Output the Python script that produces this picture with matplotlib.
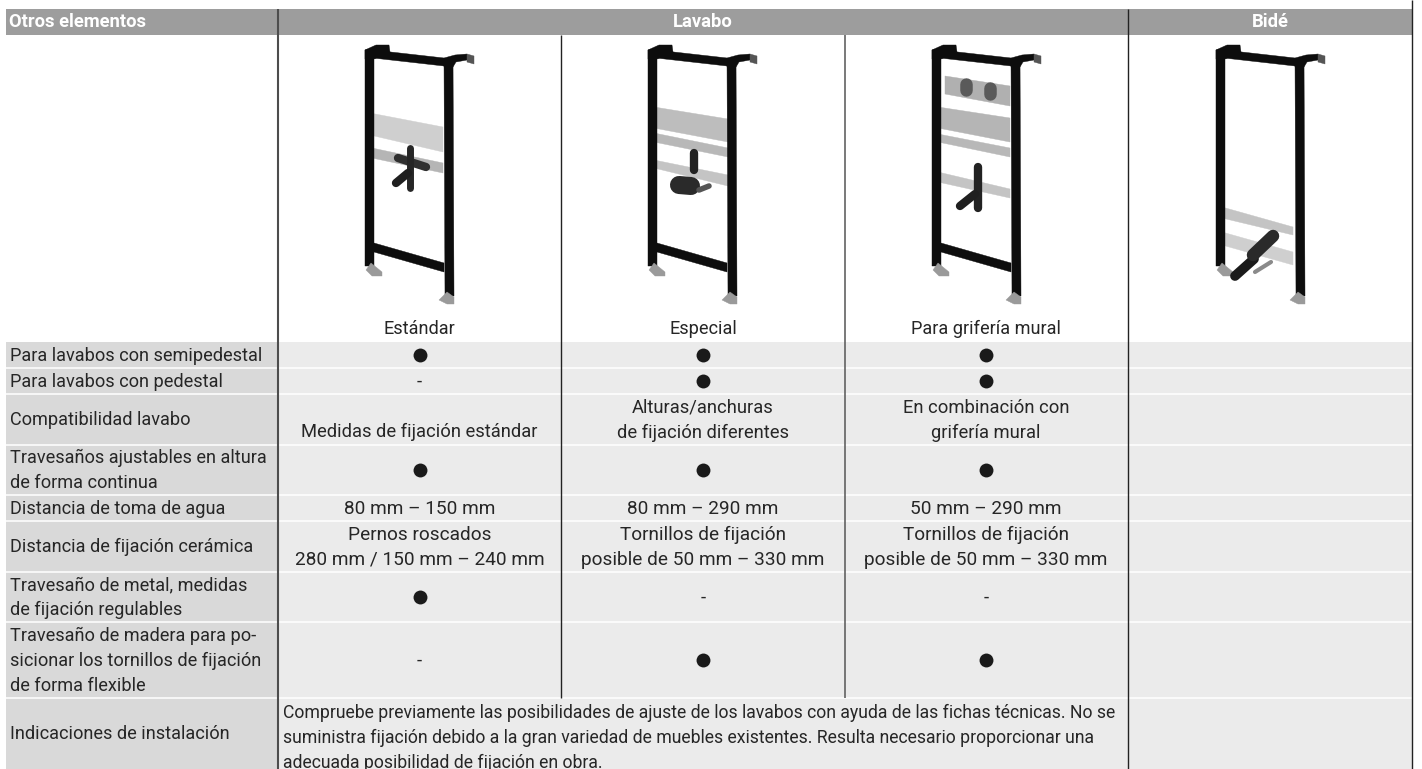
import matplotlib
matplotlib.use("Agg")
import matplotlib.pyplot as plt
from matplotlib.patches import Polygon, Rectangle

plt.rcParams['font.family'] = ['Roboto', 'DejaVu Sans']

header_labels = ["Otros elementos", "Lavabo", "Bidé"]
product_names = ["Estándar", "Especial", "Para grifería mural"]
row_labels = [
    ["Para lavabos con semipedestal"],
    ["Para lavabos con pedestal"],
    ["Compatibilidad lavabo"],
    ["Travesaños ajustables en altura", "de forma continua"],
    ["Distancia de toma de agua"],
    ["Distancia de fijación cerámica"],
    ["Travesaño de metal, medidas", "de fijación regulables"],
    ["Travesaño de madera para po-", "sicionar los tornillos de fijación", "de forma flexible"],
    ["Indicaciones de instalación"],
]
DOT = "●"
col_standard = [DOT, "-", ["Medidas de fijación estándar"], DOT, ["80 mm – 150 mm"],
                ["Pernos roscados", "280 mm / 150 mm – 240 mm"], DOT, "-"]
col_special = [DOT, DOT, ["Alturas/anchuras", "de fijación diferentes"], DOT, ["80 mm – 290 mm"],
               ["Tornillos de fijación", "posible de 50 mm – 330 mm"], "-", DOT]
col_mural = [DOT, DOT, ["En combinación con", "grifería mural"], DOT, ["50 mm – 290 mm"],
             ["Tornillos de fijación", "posible de 50 mm – 330 mm"], "-", DOT]
install_note = [
    "Compruebe previamente las posibilidades de ajuste de los lavabos con ayuda de las fichas técnicas. No se",
    "suministra fijación debido a la gran variedad de muebles existentes. Resulta necesario proporcionar una",
    "adecuada posibilidad de fijación en obra.",
]

W, H = 1422, 769
fig = plt.figure(figsize=(W / 100, H / 100), dpi=100)
ax = fig.add_axes([0, 0, 1, 1])
ax.set_xlim(0, W)
ax.set_ylim(H, 0)
ax.axis("off")

LEFT, VL0, VL1, VL2, VL3, RIGHT = 6, 277.5, 561, 845, 1128, 1412
HEAD_T, HEAD_B = 8.5, 35
row_edges = [342, 368, 394, 445, 495, 521, 572, 622, 698, 769]
col_centers = [419.5, 703, 986]
FS_LABEL, FS_VALUE, FS_NOTE, FS_NUM, FS_HEAD = 13.1, 13.2, 12.66, 13.7, 13.2
TXT = "#262626"
BASE = 5.8  # baseline below the line centre
LINE = 25.2

# backgrounds
ax.add_patch(Rectangle((LEFT, HEAD_T), RIGHT - LEFT, HEAD_B - HEAD_T, fc="#9d9d9d", ec="none"))
ax.add_patch(Rectangle((LEFT, row_edges[0]), VL0 - LEFT, H - row_edges[0], fc="#d9d9d9", ec="none"))
ax.add_patch(Rectangle((VL0, row_edges[0]), RIGHT - VL0, H - row_edges[0], fc="#ebebeb", ec="none"))
for y in row_edges[1:-1]:
    ax.plot([LEFT, RIGHT], [y, y], color="white", lw=1.1, solid_capstyle="butt", zorder=2)

# grid lines
ax.plot([VL0, VL0], [HEAD_T, H], color="#4d4d4d", lw=1.5, zorder=3, solid_capstyle="butt")
ax.plot([VL1, VL1], [HEAD_B, row_edges[8]], color="#222222", lw=1.0, zorder=3, solid_capstyle="butt")
ax.plot([VL2, VL2], [HEAD_B, row_edges[8]], color="#555555", lw=1.1, zorder=3, solid_capstyle="butt")
ax.plot([VL3, VL3], [HEAD_T, H], color="#222222", lw=1.0, zorder=3, solid_capstyle="butt")
ax.plot([RIGHT, RIGHT], [0, H], color="#222222", lw=1.0, zorder=3, solid_capstyle="butt")

# headers
hkw = dict(color="white", fontweight="bold", fontsize=FS_HEAD, va="baseline", zorder=4)
ax.text(9, 27, header_labels[0], ha="left", **hkw)
ax.text(703, 27, header_labels[1], ha="center", **hkw)
ax.text(1270, 27, header_labels[2], ha="center", **hkw)

for cx, name in zip(col_centers, product_names):
    ax.text(cx, 328 + BASE, name, ha="center", va="baseline", fontsize=FS_LABEL, color=TXT)


def text_lines(x, yc, lines, ha, fs):
    n = len(lines)
    for i, s in enumerate(lines):
        ax.text(x, yc + BASE + (i - (n - 1) / 2) * LINE, s, ha=ha, va="baseline",
                fontsize=fs, color=TXT, zorder=4)


# left column
for i, lines in enumerate(row_labels):
    yc = (row_edges[i] + row_edges[i + 1]) / 2
    text_lines(10, yc, lines, "left", FS_LABEL)

# value columns
for cx, col in zip(col_centers, [col_standard, col_special, col_mural]):
    for i, v in enumerate(col):
        yc = (row_edges[i] + row_edges[i + 1]) / 2
        if v == DOT:
            ax.plot([cx], [yc - 0.5], "o", ms=10, color="#1a1a1a", mew=0, zorder=4)
        elif v == "-":
            ax.text(cx, yc + BASE, "-", ha="center", va="baseline", fontsize=FS_VALUE, color=TXT, zorder=4)
        else:
            if i == 2 and len(v) == 1:
                yc += 12
            fs = FS_NUM if any(c.isdigit() for c in "".join(v)) else FS_VALUE
            text_lines(cx, yc, v, "center", fs)

for i, s in enumerate(install_note):
    t = ax.text(283, 712 + BASE + i * LINE, s, ha="left", va="baseline", fontsize=FS_NOTE, color=TXT, zorder=4)
    t.set_clip_on(True)


# product sketches: drawn in the coordinates of the first frame, then shifted
def poly(dx, pts, color, z=5):
    ax.add_patch(Polygon([(x + dx, y) for x, y in pts], closed=True, fc=color, ec=color, lw=0.3, zorder=z))


def stroke(dx, xs, ys, color, lw, z=7):
    ax.plot([x + dx for x in xs], ys, color=color, lw=lw, solid_capstyle="round", zorder=z)


def frame(dx, bottom_bar=True):
    K = "#0d0d0d"
    poly(dx, [(365, 50), (374, 48), (374, 266), (365, 266)], K, 6)
    poly(dx, [(444, 60), (453, 58), (454, 296), (445, 296)], K, 6)
    poly(dx, [(373, 50), (444, 58), (444, 66), (373, 58)], K, 6)
    poly(dx, [(365, 50), (376, 45), (389, 45), (390, 52), (374, 59), (365, 59)], K, 6)
    poly(dx, [(444, 58), (455, 55), (467, 54), (467, 60), (456, 62), (453, 67), (444, 67)], K, 6)
    poly(dx, [(467, 54), (474, 56), (474, 64), (467, 62)], "#555555", 6)
    if bottom_bar:
        poly(dx, [(374, 243), (444, 263), (444, 272), (374, 252)], K, 6)
    poly(dx, [(366, 270), (371, 263), (382, 272), (382, 276), (372, 276)], "#9a9a9a", 7)
    poly(dx, [(439, 300), (447, 292), (454, 297), (454, 304), (447, 304)], "#9a9a9a", 7)


# Estándar
d = 0
frame(d)
poly(d, [(370, 113), (443, 127), (443, 152), (370, 135)], "#cfcfcf")
poly(d, [(372, 148), (443, 163), (443, 173), (372, 158)], "#b5b5b5")
stroke(d, [398, 426], [158, 167], "#303030", 6)
stroke(d, [410, 410], [148, 188], "#262626", 5)
stroke(d, [396, 408], [183, 173], "#1f1f1f", 6)

# Especial
d = 283
frame(d)
poly(d, [(371, 107), (445, 119), (445, 142), (371, 128)], "#bdbdbd")
poly(d, [(371, 133), (445, 148), (445, 157), (371, 142)], "#b8b8b8")
poly(d, [(371, 160), (445, 175), (445, 186), (371, 168)], "#c4c4c4")
stroke(d, [411, 411], [153, 170], "#222222", 6)
stroke(d, [396, 408], [185, 186], "#2a2a2a", 13)
stroke(d, [416, 426], [190, 186], "#555555", 4)

# Para grifería mural
d = 567
frame(d)
poly(d, [(378, 76), (443, 86), (443, 106), (378, 94)], "#b0b0b0")
poly(d, [(371, 107), (443, 118), (443, 142), (371, 128)], "#b5b5b5")
poly(d, [(371, 134), (443, 148), (443, 157), (371, 142)], "#b8b8b8")
poly(d, [(371, 172), (443, 189), (443, 198), (371, 182)], "#c4c4c4")
stroke(d, [399, 399], [84, 90], "#5a5a5a", 9)
stroke(d, [423, 423], [88, 94], "#5a5a5a", 9)
stroke(d, [411, 411], [167, 208], "#222222", 6)
stroke(d, [393, 408], [206, 194], "#1f1f1f", 6)

# Bidé
d = 851
frame(d, bottom_bar=False)
poly(d, [(371, 207), (442, 227), (442, 235), (371, 218)], "#c4c4c4")
poly(d, [(371, 232), (442, 252), (442, 265), (371, 245)], "#cfcfcf")
stroke(d, [384, 403], [276, 259], "#1a1a1a", 7)
stroke(d, [402, 422], [255, 236], "#2a2a2a", 9)
stroke(d, [404, 420], [272, 262], "#8a8a8a", 3)

fig.savefig("out.png", dpi=100)
